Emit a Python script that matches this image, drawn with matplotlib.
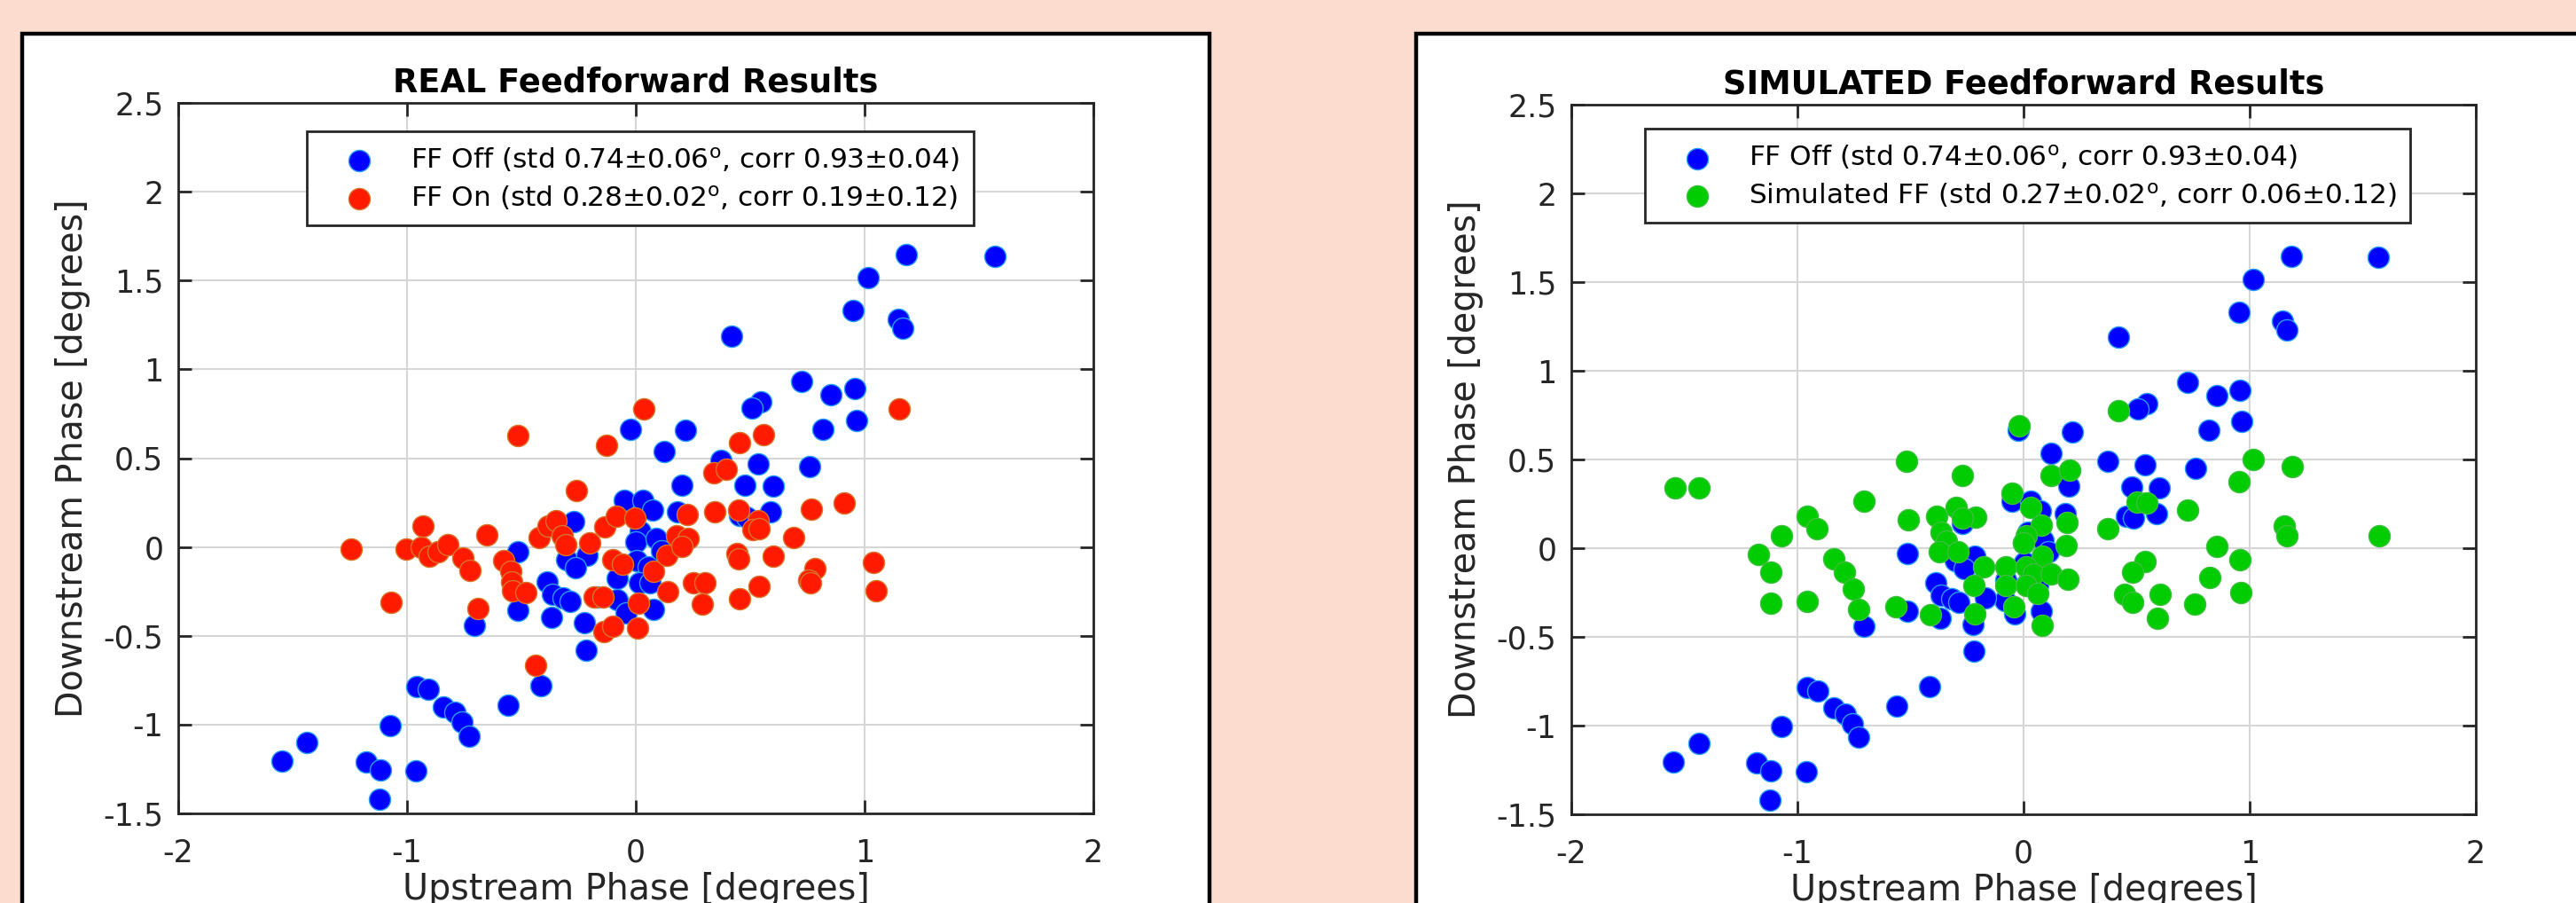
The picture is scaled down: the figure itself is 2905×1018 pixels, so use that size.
import matplotlib
matplotlib.use("Agg")
import matplotlib.pyplot as plt
from matplotlib.patches import Rectangle

plt.rcParams['font.family'] = ['DejaVu Sans']
plt.rcParams['axes.unicode_minus'] = False

# FF off points (same data in both panels)
off_x = [1.183, 1.57, 1.015, 0.951, 1.147, 1.165, 0.418, 0.725, 0.854, 0.957,
         0.545, 0.506, 0.819, 0.965, 0.217, -0.022, 0.123, 0.372, 0.536, 0.761,
         0.2, 0.477, 0.6, 0.183, 0.453, 0.485, 0.588, -0.05, 0.03, 0.075,
         -0.27, 0.021, 0.001, 0.088, 0.111, -0.515, -0.302, -0.215, -0.263, 0.004,
         0.055, -0.08, 0.017, 0.062, -0.387, -0.364, -0.319, -0.286, -0.083, -0.17,
         -0.041, 0.079, -0.515, -0.37, -0.706, -0.225, -0.218, -0.415, -0.957, -0.908,
         -0.841, -0.789, -0.758, -0.73, -0.56, -1.072, -1.548, -1.437, -1.18, -1.118,
         -0.961, -1.121]
off_y = [1.645, 1.638, 1.517, 1.33, 1.28, 1.23, 1.188, 0.933, 0.858, 0.892,
         0.817, 0.783, 0.663, 0.713, 0.657, 0.663, 0.535, 0.488, 0.468, 0.452,
         0.35, 0.347, 0.342, 0.197, 0.18, 0.17, 0.197, 0.263, 0.263, 0.208,
         0.142, 0.088, 0.03, 0.047, -0.02, -0.028, -0.07, -0.045, -0.117, -0.078,
         -0.112, -0.178, -0.2, -0.203, -0.195, -0.267, -0.287, -0.307, -0.295, -0.28,
         -0.37, -0.353, -0.357, -0.395, -0.44, -0.428, -0.582, -0.782, -0.787, -0.803,
         -0.9, -0.933, -0.988, -1.067, -0.892, -1.005, -1.205, -1.1, -1.208, -1.253,
         -1.258, -1.422]

# FF on (real)
on_x = [-1.245, -0.515, 0.036, -0.126, -0.261, -0.932, -1.005, -0.937, -0.903, -0.863,
        -0.822, -0.754, -0.723, -0.65, -1.07, -0.689, -0.579, -0.545, -0.543, -0.538,
        -0.48, -0.439, -0.422, -0.382, -0.347, -0.323, -0.306, -0.203, -0.134, -0.086,
        -0.005, -0.099, -0.057, 0.077, 0.137, 0.139, -0.183, -0.145, 0.013, -0.138,
        -0.102, 0.006, 1.15, 0.559, 0.454, 0.342, 0.397, 0.224, 0.345, 0.451,
        0.533, 0.511, 0.537, 0.768, 0.911, 0.69, 0.178, 0.227, 0.201, 0.443,
        0.45, 0.6, 0.782, 0.754, 0.765, 1.04, 1.052, 0.25, 0.303, 0.538,
        0.452, 0.29]
on_y = [-0.012, 0.625, 0.775, 0.572, 0.32, 0.117, -0.012, -0.003, -0.053, -0.025,
        0.013, -0.062, -0.132, 0.067, -0.312, -0.348, -0.078, -0.137, -0.195, -0.245,
        -0.258, -0.665, 0.055, 0.118, 0.15, 0.063, 0.013, 0.025, 0.113, 0.172,
        0.163, -0.07, -0.095, -0.137, -0.048, -0.25, -0.282, -0.282, -0.317, -0.475,
        -0.445, -0.458, 0.775, 0.633, 0.588, 0.417, 0.438, 0.185, 0.2, 0.208,
        0.147, 0.097, 0.105, 0.213, 0.247, 0.055, 0.063, 0.05, 0.005, -0.037,
        -0.067, -0.053, -0.12, -0.187, -0.203, -0.087, -0.245, -0.2, -0.2, -0.22,
        -0.29, -0.32]

# simulated FF
sim_x = [-1.542, -1.437, -0.517, -0.021, -0.269, -0.704, -0.51, -0.958, -0.913, -1.069,
         -1.172, -1.117, -1.117, -0.958, -0.841, -0.794, -0.752, -0.728, -0.565, -0.413,
         -0.386, -0.298, -0.21, -0.269, -0.366, -0.341, -0.373, -0.289, -0.175, -0.221,
         -0.217, -0.08, -0.08, -0.044, -0.051, 0.031, 0.077, 0.012, -0.001, 0.084,
         0.012, 0.044, 0.123, 0.012, 0.064, 0.081, 0.123, 0.205, 0.192, 0.19,
         0.195, 0.42, 1.017, 1.187, 0.952, 0.5, 0.546, 0.727, 0.373, 1.152,
         1.163, 1.573, 0.856, 0.958, 0.537, 0.481, 0.824, 0.448, 0.481, 0.603,
         0.756, 0.592, 0.962]
sim_y = [0.342, 0.342, 0.492, 0.688, 0.408, 0.265, 0.16, 0.18, 0.108, 0.068,
         -0.037, -0.133, -0.308, -0.298, -0.058, -0.133, -0.228, -0.345, -0.332, -0.375,
         0.18, 0.23, 0.175, 0.17, 0.088, 0.038, -0.02, -0.02, -0.103, -0.208,
         -0.37, -0.103, -0.212, -0.328, 0.308, 0.23, 0.13, 0.072, 0.03, -0.045,
         -0.103, -0.145, -0.145, -0.212, -0.253, -0.437, 0.408, 0.438, 0.147, 0.013,
         -0.175, 0.774, 0.5, 0.458, 0.375, 0.262, 0.257, 0.213, 0.11, 0.126,
         0.068, 0.071, 0.01, -0.066, -0.073, -0.133, -0.164, -0.261, -0.307, -0.261,
         -0.314, -0.397, -0.248]

x_ticks = [-2, -1, 0, 1, 2]
x_tick_labels = ['-2', '-1', '0', '1', '2']
y_ticks = [-1.5, -1, -0.5, 0, 0.5, 1, 1.5, 2, 2.5]
y_tick_labels = ['-1.5', '-1', '-0.5', '0', '0.5', '1', '1.5', '2', '2.5']

off_label = 'FF Off (std 0.74±0.06$^{\\mathrm{o}}$, corr 0.93±0.04)'
on_label = 'FF On (std 0.28±0.02$^{\\mathrm{o}}$, corr 0.19±0.12)'
sim_label = 'Simulated FF (std 0.27±0.02$^{\\mathrm{o}}$, corr 0.06±0.12)'

W, H = 2905, 1018
DARK = '#262626'
TICK_FS = 25
MS = 300
fig = plt.figure(figsize=(W / 100, H / 100), dpi=100, facecolor='#fddcd0')


def px_box(x0, y0, x1, y1):
    return [x0 / W, 1 - y1 / H, (x1 - x0) / W, (y1 - y0) / H]


# white panel frames behind each plot
for x0, x1 in [(25, 1364), (1597, 3100)]:
    fig.add_artist(Rectangle((x0 / W, -0.1), (x1 - x0) / W, 1.1 - 38 / H,
                             transform=fig.transFigure, facecolor='white',
                             edgecolor='black', lw=3.2, zorder=-1))


def style_axes(ax, title, anchor):
    ax.set_xlim(-2, 2)
    ax.set_ylim(-1.5, 2.5)
    ax.tick_params(direction='in', length=11, width=2, top=True, right=True,
                   labelsize=TICK_FS, colors=DARK)
    ax.tick_params(axis='x', pad=20)
    ax.tick_params(axis='y', pad=12)
    ax.set_xticks(x_ticks)
    ax.set_xticklabels(x_tick_labels, fontsize=TICK_FS, color=DARK)
    ax.set_yticks(y_ticks)
    ax.set_yticklabels(y_tick_labels, fontsize=TICK_FS, color=DARK)
    ax.grid(True, color='#d6d6d6', lw=1.5)
    ax.set_axisbelow(True)
    for sp in ax.spines.values():
        sp.set_linewidth(2)
        sp.set_color(DARK)
    ax.set_title(title, fontsize=26.5, fontweight='bold', pad=9)
    ax.set_xlabel('Upstream Phase [degrees]', fontsize=28.5, color=DARK, labelpad=3)
    ax.set_ylabel('Downstream Phase [degrees]', fontsize=28.5, color=DARK, labelpad=10)
    leg = ax.legend(loc='upper left', bbox_to_anchor=anchor, fontsize=22.5,
                    frameon=True, fancybox=False, edgecolor=DARK, framealpha=1,
                    borderpad=0.5, handlelength=2.8, handletextpad=0.45,
                    labelspacing=0.35, scatterpoints=1, markerscale=1,
                    borderaxespad=0)
    leg.get_frame().set_linewidth(2)


ax1 = fig.add_axes(px_box(201, 116, 1233, 917))
ax1.scatter(off_x, off_y, s=MS, c='#0000ff', edgecolors='#2a9df4', linewidths=1,
            label=off_label, zorder=3)
ax1.scatter(on_x, on_y, s=MS, c='#ff1a00', edgecolors='#d9742a', linewidths=1,
            label=on_label, zorder=4)
style_axes(ax1, 'REAL Feedforward Results', (0.1405, 0.96))

ax2 = fig.add_axes(px_box(1772, 118, 2792, 918))
ax2.scatter(off_x, off_y, s=MS, c='#0000ff', edgecolors='#2a9df4', linewidths=1,
            label=off_label, zorder=3)
ax2.scatter(sim_x, sim_y, s=MS, c='#00cc00', edgecolors='#3fbf3f', linewidths=1,
            label=sim_label, zorder=4)
style_axes(ax2, 'SIMULATED Feedforward Results', (0.081, 0.966))

fig.savefig('out.png', dpi=100, facecolor=fig.get_facecolor())
